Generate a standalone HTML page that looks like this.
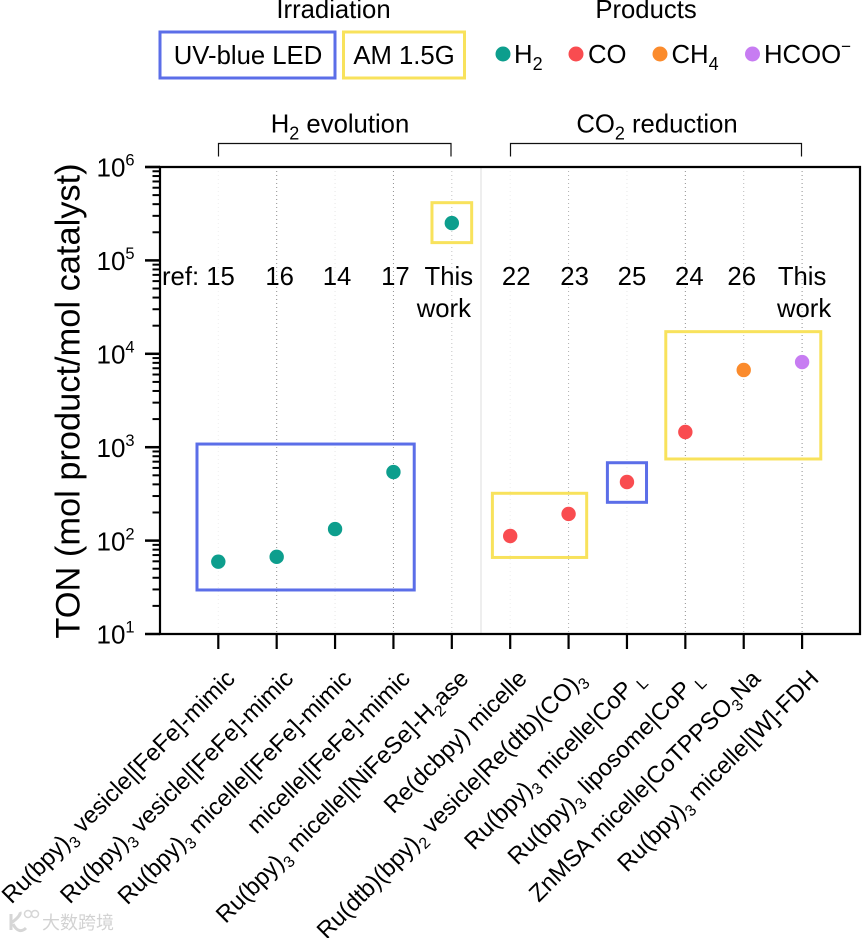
<!DOCTYPE html>
<html lang="en">
<head>
<meta charset="utf-8">
<title>TON comparison chart</title>
<style>
html,body{margin:0;padding:0;background:#fff;}
svg{display:block;font-family:"Liberation Sans","Noto Sans CJK SC",sans-serif;fill:#000;}
</style>
</head>
<body>
<svg id="chart" width="862" height="938" viewBox="0 0 862 938" xmlns="http://www.w3.org/2000/svg">
  <rect x="0" y="0" width="862" height="938" fill="#fff"/>

  <g>
    <text x="333.500" y="18" font-size="25.700" text-anchor="middle">Irradiation</text>
    <rect x="160" y="32" width="175" height="46" fill="none" stroke="#5b6ee8" stroke-width="3"/>
    <text x="248" y="64" font-size="25.700" text-anchor="middle">UV-blue LED</text>
    <rect x="343.500" y="32" width="121" height="46" fill="none" stroke="#f8e25c" stroke-width="3"/>
    <text x="404" y="64" font-size="25.700" text-anchor="middle">AM 1.5G</text>
  </g>

  <g>
    <text x="646" y="18" font-size="25.700" text-anchor="middle">Products</text>
    <circle cx="503" cy="54" r="7.500" fill="#0d9e8d"/>
    <text x="514" y="63" font-size="25.700">H<tspan dy="7" font-size="18">2</tspan></text>
    <circle cx="576" cy="54" r="7.500" fill="#f94c50"/>
    <text x="588" y="63" font-size="25.700">CO</text>
    <circle cx="660" cy="54" r="7.500" fill="#fb8b2c"/>
    <text x="671.500" y="63" font-size="25.700">CH<tspan dy="7" font-size="18">4</tspan></text>
    <circle cx="752.500" cy="54" r="7.500" fill="#c77cf2"/>
    <text x="764" y="63" font-size="25.700">HCOO<tspan dy="-11" font-size="17">−</tspan></text>
  </g>

  <g>
    <text x="340" y="132.500" font-size="25.700" text-anchor="middle">H<tspan dy="7" font-size="18">2</tspan><tspan dy="-7"> evolution</tspan></text>
    <path d="M218.500 156.500V143.500H451V156.500" fill="none" stroke="#111" stroke-width="1.200"/>
  </g>
  <g>
    <text x="657" y="132.500" font-size="25.700" text-anchor="middle">CO<tspan dy="7" font-size="18">2</tspan><tspan dy="-7"> reduction</tspan></text>
    <path d="M510.500 156.500V143.500H801.500V156.500" fill="none" stroke="#111" stroke-width="1.200"/>
  </g>

  <text transform="translate(79.500 401) rotate(-90)" font-size="34.400" text-anchor="middle">TON (mol product/mol catalyst)</text>

  <g id="grid"></g>
  <g id="boxes"></g>
  <g id="refs"></g>
  <g id="points"></g>
  <g id="axes"></g>
  <g id="xlabels"></g>

  <g>
    <path d="M11 914V930M11 923C18 918 21 914 20 912M13 924C17 932 22 932 26 928" fill="none" stroke="#d6d6d6" stroke-width="3"/>
    <circle cx="28" cy="914" r="3.500" fill="none" stroke="#d6d6d6" stroke-width="1.500"/>
    <circle cx="35" cy="914" r="3.500" fill="none" stroke="#d6d6d6" stroke-width="1.500"/>
    <text x="42" y="929" font-size="18" fill="#d2d2d2" style="fill:#d2d2d2">大数跨境</text>
  </g>
</svg>

<script>
const categories = [
  "Ru(bpy)_3_ vesicle|[FeFe]-mimic",
  "Ru(bpy)_3_ vesicle|[FeFe]-mimic",
  "Ru(bpy)_3_ micelle|[FeFe]-mimic",
  "micelle|[FeFe]-mimic",
  "Ru(bpy)_3_ micelle|[NiFeSe]-H_2_ase",
  "Re(dcbpy) micelle",
  "Ru(dtb)(bpy)_2_ vesicle|Re(dtb)(CO)_3_",
  "Ru(bpy)_3_ micelle|CoP _L_",
  "Ru(bpy)_3_ liposome|CoP _L_",
  "ZnMSA micelle|CoTPPSO_3_Na",
  "Ru(bpy)_3_ micelle|[W]-FDH"
];
const tonValues = [59.5, 67, 133, 542, 251000, 112, 193, 424, 1455, 6710, 8160];
const products = ["H2", "H2", "H2", "H2", "H2", "CO", "CO", "CO", "CO", "CH4", "HCOO"];
const refRow1 = ["ref: 15", "16", "14", "17", "This", "22", "23", "25", "24", "26", "This"];
const refRow2 = ["", "", "", "", "work", "", "", "", "", "", "work"];
const yExponents = [1, 2, 3, 4, 5, 6];
const minorMultipliers = [2, 3, 4, 5, 6, 7, 8, 9];
const boxStart = [-0.365, 3.66, 4.695, 6.665, 7.665];
const boxEnd = [3.356, 4.34, 6.31, 7.335, 10.32];
const boxLow = [29.6, 155000, 66, 257, 748];
const boxHigh = [1081, 415000, 321, 682, 17260];
const boxSource = ["led", "am", "am", "led", "am"];

const NS = "http://www.w3.org/2000/svg";
const PLOT = {left: 160, right: 860, top: 167, bottom: 634};
const productColor = {H2: "#0d9e8d", CO: "#f94c50", CH4: "#fb8b2c", HCOO: "#c77cf2"};
const sourceColor = {led: "#5b6ee8", am: "#f8e25c"};
const gridColor = ["#eeeeee", "#8f8f8f", "#e6e6e6", "#8f8f8f", "#c4c4c4", "#eeeeee", "#b0b0b0", "#e6e6e6", "#8f8f8f", "#b8b8b8", "#8f8f8f"];

function xScale(i) { return 218.3 + i * 58.38; }
function yScale(v) { return PLOT.bottom - (Math.log10(v) - 1) * (PLOT.bottom - PLOT.top) / 5; }

function make(tag, parent, attrs) {
  const el = document.createElementNS(NS, tag);
  for (const k in attrs) el.setAttribute(k, attrs[k]);
  parent.appendChild(el);
  return el;
}
function line(parent, x1, y1, x2, y2, stroke, width, dash) {
  const attrs = {x1: x1, y1: y1, x2: x2, y2: y2, stroke: stroke, "stroke-width": width};
  if (dash) attrs["stroke-dasharray"] = dash;
  return make("line", parent, attrs);
}

const grid = document.getElementById("grid");
categories.forEach(function (c, i) {
  const g = line(grid, xScale(i), PLOT.top, xScale(i), PLOT.bottom, gridColor[i], 1, "1 3");
  
  
});
const divider = line(grid, (xScale(4) + xScale(5)) / 2, PLOT.top, (xScale(4) + xScale(5)) / 2, PLOT.bottom, "#dcdcdc", 1);



const boxes = document.getElementById("boxes");
boxSource.forEach(function (s, i) {
  const x0 = xScale(boxStart[i]), x1 = xScale(boxEnd[i]);
  const y0 = yScale(boxHigh[i]), y1 = yScale(boxLow[i]);
  const r = make("rect", boxes, {x: x0, y: y0, width: x1 - x0, height: y1 - y0, fill: "none", stroke: sourceColor[s], "stroke-width": 3});
  
  
});

const refs = document.getElementById("refs");
const refShift = [-2, 3, 2, 2, -3, 6, 6, 5, 4, -2, 0];
refRow1.forEach(function (t, i) {
  const isFirst = i === 0;
  const el = make("text", refs, {x: isFirst ? 162 : xScale(i) + refShift[i], y: 285, "font-size": 25.7, "text-anchor": isFirst ? "start" : "middle"});
  el.textContent = t;
  
  
  if (refRow2[i]) {
    const el2 = make("text", refs, {x: xScale(i) + (i === 4 ? -8 : 2), y: 317, "font-size": 25.7, "text-anchor": "middle"});
    el2.textContent = refRow2[i];
    
    
  }
});

const points = document.getElementById("points");
tonValues.forEach(function (v, i) {
  const c = make("circle", points, {cx: xScale(i), cy: yScale(v), r: 7.2, fill: productColor[products[i]]});
  
  
});

const axes = document.getElementById("axes");
const frame = make("path", axes, {d: "M" + PLOT.left + " " + PLOT.top + "H" + PLOT.right + "V" + PLOT.bottom + "H" + PLOT.left + "Z", fill: "none", stroke: "#000", "stroke-width": 2.2});


const topExt = line(axes, 145, PLOT.top, PLOT.left, PLOT.top, "#000", 2.2);



yExponents.forEach(function (e) {
  const v = Math.pow(10, e);
  const t = line(axes, 145, yScale(v), PLOT.left, yScale(v), "#000", 2.5);
  
  
  const lab = make("text", axes, {x: 96.5, y: yScale(v) + 9.7, "font-size": 26});
  
  
  lab.appendChild(document.createTextNode("10"));
  const sup = make("tspan", lab, {dy: -11, "font-size": 16.5});
  sup.textContent = String(e);
  if (e < 6) {
    minorMultipliers.forEach(function (m) {
      const mt = line(axes, 152.5, yScale(v * m), PLOT.left, yScale(v * m), "#000", 2);
      
      
    });
  }
});

categories.forEach(function (c, i) {
  const t = line(axes, xScale(i), PLOT.bottom, xScale(i), 649, "#000", 2.2);
  
  
});

const xlabels = document.getElementById("xlabels");
categories.forEach(function (c, i) {
  const ax = xScale(i) + 18, ay = 680;
  const el = make("text", xlabels, {x: ax, y: ay, "font-size": 23.8, "text-anchor": "end", transform: "rotate(-45 " + ax + " " + ay + ")"});
  
  
  const parts = c.split("_");
  let pending = 0;
  parts.forEach(function (p, k) {
    if (!p) return;
    const isSub = k % 2 === 1;
    const dy = isSub ? 6 - pending : 0 - pending;
    const sp = make("tspan", el, {dy: dy});
    if (isSub) sp.setAttribute("font-size", 16);
    sp.textContent = p;
    pending = isSub ? 6 : 0;
  });
});
</script>
</body>
</html>
